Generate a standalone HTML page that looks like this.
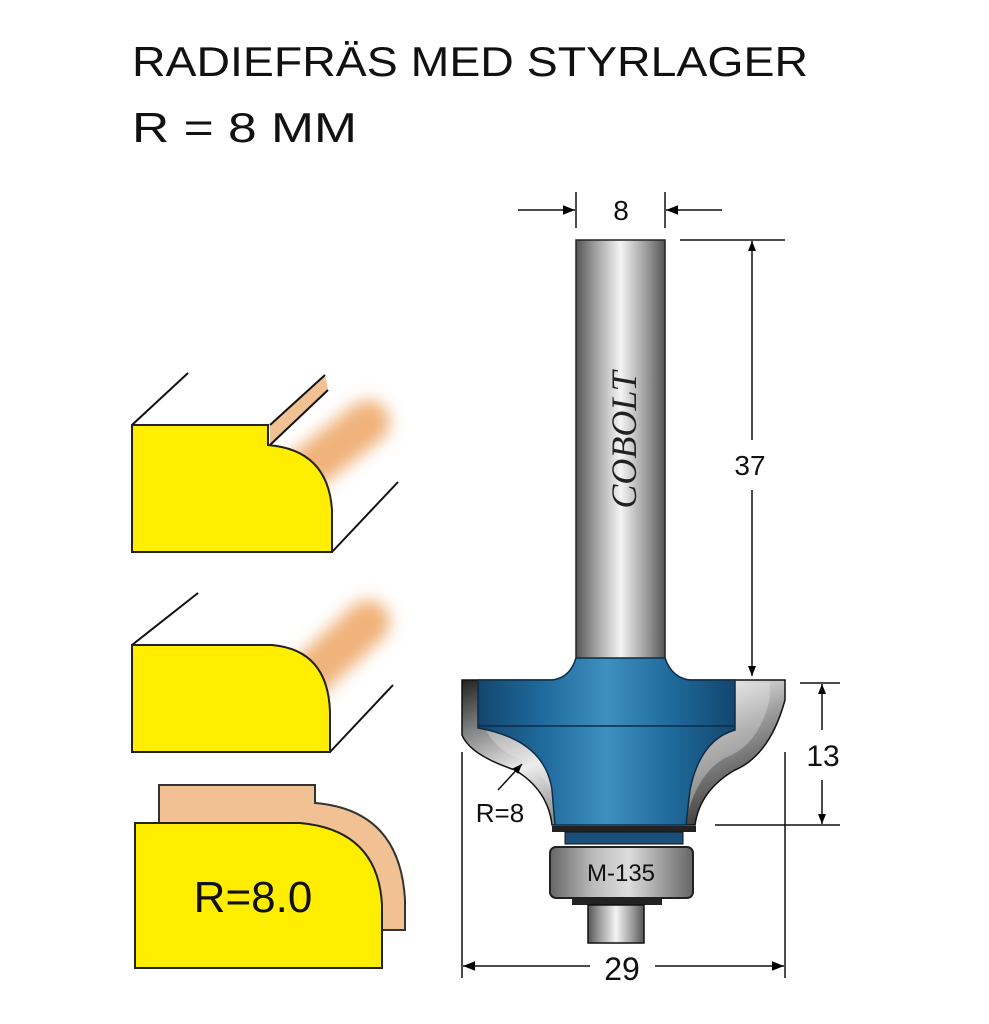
<!DOCTYPE html>
<html><head><meta charset="utf-8"><style>html,body{margin:0;padding:0;background:#fff}svg{display:block}</style></head>
<body>
<svg width="989" height="1024" viewBox="0 0 989 1024" xmlns="http://www.w3.org/2000/svg" font-family="Liberation Sans, sans-serif">
<defs>
<linearGradient id="shank" x1="0" x2="1" y1="0" y2="0">
<stop offset="0" stop-color="#555"/><stop offset="0.2" stop-color="#9a9a9a"/><stop offset="0.5" stop-color="#f4f4f4"/><stop offset="0.8" stop-color="#999"/><stop offset="1" stop-color="#555"/>
</linearGradient>
<linearGradient id="blue" x1="0" x2="1" y1="0" y2="0">
<stop offset="0" stop-color="#13466e"/><stop offset="0.25" stop-color="#1f6a9c"/><stop offset="0.5" stop-color="#3f8fc0"/><stop offset="0.75" stop-color="#1f6a9c"/><stop offset="1" stop-color="#13466e"/>
</linearGradient>
<linearGradient id="brg" x1="0" x2="1" y1="0" y2="0">
<stop offset="0" stop-color="#666"/><stop offset="0.3" stop-color="#bbb"/><stop offset="0.55" stop-color="#ddd"/><stop offset="1" stop-color="#666"/>
</linearGradient>
<linearGradient id="silver" x1="0" x2="1" y1="0" y2="1">
<stop offset="0" stop-color="#222"/><stop offset="0.4" stop-color="#eee"/><stop offset="0.6" stop-color="#999"/><stop offset="1" stop-color="#111"/>
</linearGradient>
<filter id="blur" x="-1" y="-1" width="3" height="3"><feGaussianBlur stdDeviation="8"/></filter>
<marker id="ar" viewBox="0 0 10 10" refX="10" refY="5" markerWidth="10" markerHeight="12" markerUnits="userSpaceOnUse" orient="auto"><path d="M0,1 L10,5 L0,9 z" fill="#000"/></marker>
<marker id="arl" viewBox="0 0 10 10" refX="10" refY="5" markerWidth="18" markerHeight="12" markerUnits="userSpaceOnUse" orient="auto"><path d="M0,1 L10,5 L0,9 z" fill="#000"/></marker>
</defs>

<text x="132" y="76" font-size="42" textLength="676" lengthAdjust="spacingAndGlyphs" fill="#111">RADIEFRÄS MED STYRLAGER</text>
<text x="132" y="142" font-size="42" textLength="225" lengthAdjust="spacingAndGlyphs" fill="#111">R = 8 MM</text>

<!-- profile 1 -->
<line x1="300" y1="475" x2="368" y2="422" stroke="#f0b27a" stroke-width="44" stroke-linecap="round" filter="url(#blur)"/>
<polygon points="270,425 325,375 328,390 270,445" fill="#f2c193"/>
<line x1="132" y1="425" x2="188" y2="373" stroke="#111" stroke-width="2"/>
<line x1="270" y1="425" x2="325" y2="375" stroke="#111" stroke-width="2"/>
<line x1="270" y1="445" x2="328" y2="390" stroke="#111" stroke-width="2"/>
<line x1="332" y1="552" x2="398" y2="482" stroke="#111" stroke-width="2"/>
<path d="M132,425 H268 V445 Q328,450 332,510 V552 H132 Z" fill="#ffee00" stroke="#222" stroke-width="2"/>

<!-- profile 2 -->
<line x1="300" y1="685" x2="368" y2="622" stroke="#f0b27a" stroke-width="44" stroke-linecap="round" filter="url(#blur)"/>
<line x1="132" y1="645" x2="198" y2="593" stroke="#111" stroke-width="2"/>
<line x1="330" y1="752" x2="393" y2="685" stroke="#111" stroke-width="2"/>
<path d="M132,645 H272 Q328,650 330,712 V752 H132 Z" fill="#ffee00" stroke="#222" stroke-width="2"/>

<!-- profile 3 -->
<path d="M159,823 V785 H315 V803 Q400,810 405,900 V930 H300 V823 Z" fill="#f2c193"/>
<path d="M159,823 V785 H315 V803 Q400,810 405,900 V930 H382" fill="none" stroke="#333" stroke-width="2"/>
<path d="M135,823 H300 Q378,830 382,905 V968 H135 Z" fill="#ffee00" stroke="#222" stroke-width="2"/>
<text x="253" y="912" font-size="44" text-anchor="middle" fill="#111">R=8.0</text>

<!-- shank -->
<rect x="576" y="240" width="89" height="425" fill="url(#shank)" stroke="#222" stroke-width="1.5"/>
<text transform="translate(636,440) rotate(-90)" font-family="Liberation Serif, serif" font-style="italic" font-size="36" text-anchor="middle" fill="#222">COBOLT</text>

<!-- silver edges -->
<path d="M462,680 H785 V700 Q770,755 735,770 Q700,790 695,825 H552 Q548,790 515,770 Q470,755 462,735 Z" fill="url(#silver)" stroke="#111" stroke-width="1.5"/>
<path d="M478,683 H770 V697 Q760,745 725,758 Q695,775 685,825 H562 Q552,775 522,760 Q480,745 478,697 Z" fill="#e8e8e8" opacity="0.35"/>
<!-- blue body -->
<path d="M576,658 H665 Q672,678 690,680 H735 V730 Q700,740 690,790 L686,825 H555 L552,790 Q545,740 478,728 V680 H552 Q570,678 576,658 Z" fill="url(#blue)" stroke="#0d2d47" stroke-width="1.5"/>
<line x1="478" y1="726" x2="735" y2="726" stroke="#0d2d47" stroke-width="1.5"/>
<!-- washers -->
<rect x="552" y="826" width="144" height="6" fill="#222"/>
<rect x="565" y="832" width="118" height="12" fill="#1a4f7a" stroke="#111"/>
<!-- bearing -->
<rect x="550" y="847" width="143" height="51" rx="6" fill="url(#brg)" stroke="#222" stroke-width="2"/>
<text x="621" y="881" font-size="24" text-anchor="middle" fill="#111">M-135</text>
<rect x="572" y="899" width="90" height="6" fill="#222"/>
<rect x="588" y="905" width="56" height="38" fill="url(#shank)" stroke="#111" stroke-width="1.5"/>

<!-- dimensions -->
<g stroke="#111" stroke-width="1.5" fill="none">
<line x1="576" y1="192" x2="576" y2="228"/><line x1="665" y1="192" x2="665" y2="228"/>
<line x1="518" y1="210" x2="575" y2="210" marker-end="url(#arl)"/>
<line x1="722" y1="210" x2="666" y2="210" marker-end="url(#arl)"/>
<line x1="680" y1="240" x2="785" y2="240"/>
<line x1="752" y1="440" x2="752" y2="241" marker-end="url(#ar)"/>
<line x1="752" y1="490" x2="752" y2="676" marker-end="url(#ar)"/>
<line x1="800" y1="683" x2="840" y2="683"/>
<line x1="715" y1="825" x2="840" y2="825"/>
<line x1="822" y1="730" x2="822" y2="684" marker-end="url(#ar)"/>
<line x1="822" y1="780" x2="822" y2="824" marker-end="url(#ar)"/>
<line x1="462" y1="752" x2="462" y2="978"/><line x1="785" y1="752" x2="785" y2="978"/>
<line x1="590" y1="966" x2="463" y2="966" marker-end="url(#arl)"/>
<line x1="655" y1="966" x2="784" y2="966" marker-end="url(#arl)"/>
<line x1="498" y1="790" x2="522" y2="764" marker-end="url(#ar)"/>
</g>
<text x="621" y="220" font-size="28" text-anchor="middle" fill="#111">8</text>
<text x="750" y="475" font-size="28" text-anchor="middle" fill="#111">37</text>
<text x="823" y="766" font-size="30" text-anchor="middle" fill="#111">13</text>
<text x="622" y="980" font-size="32" text-anchor="middle" fill="#111">29</text>
<text x="500" y="822" font-size="26" text-anchor="middle" fill="#111">R=8</text>
</svg>
</body></html>
